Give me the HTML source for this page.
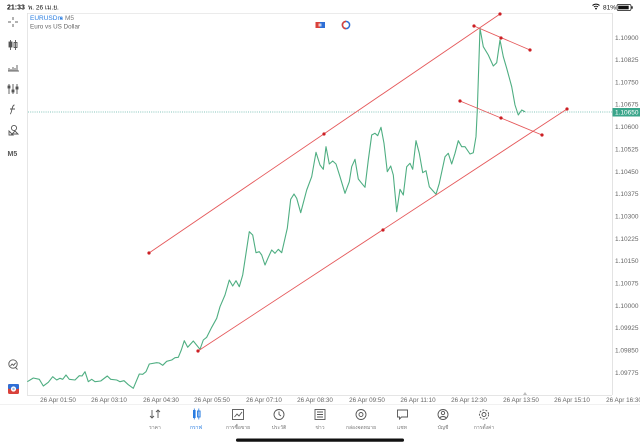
<!DOCTYPE html>
<html><head><meta charset="utf-8">
<style>
html,body{margin:0;padding:0;background:#fff;width:640px;height:447px;overflow:hidden}
svg{display:block;font-family:"Liberation Sans","DejaVu Sans",sans-serif}
</style></head><body>
<svg width="640" height="447" viewBox="0 0 640 447" xmlns="http://www.w3.org/2000/svg">
<rect width="640" height="447" fill="#fff"/>
<!-- status bar -->
<text x="7" y="9.5" font-size="7" fill="#111" font-weight="bold">21:33</text>
<text x="28" y="9.5" font-size="6.5" fill="#111">พ. 26 เม.ย.</text>
<path d="M592.5 5.5 a5 5 0 0 1 7 0 M594 7 a3 3 0 0 1 4 0" stroke="#111" stroke-width="1" fill="none"/>
<circle cx="596" cy="8.6" r="0.9" fill="#111"/>
<text x="603" y="9.5" font-size="6.5" fill="#111">81%</text>
<rect x="617" y="4.5" width="14" height="6" rx="1.5" fill="none" stroke="#111" stroke-width="0.7"/>
<rect x="618.2" y="5.7" width="10.5" height="3.6" fill="#111"/>
<rect x="631.5" y="6.3" width="1.2" height="2.4" fill="#111"/>

<!-- chart frame -->
<line x1="27" y1="13.5" x2="612" y2="13.5" stroke="#e4e4e4" stroke-width="0.8"/>
<line x1="27.5" y1="13" x2="27.5" y2="395" stroke="#e0e0e0" stroke-width="0.8"/>
<line x1="612.5" y1="13" x2="612.5" y2="395" stroke="#dcdcdc" stroke-width="0.8"/>
<line x1="27" y1="395.5" x2="612" y2="395.5" stroke="#dcdcdc" stroke-width="0.8"/>
<line x1="0" y1="404.5" x2="640" y2="404.5" stroke="#ececec" stroke-width="0.8"/>

<!-- header -->
<text x="30" y="20" font-size="6.5" fill="#2a7de1">EURUSDm</text>
<text x="60" y="20" font-size="5" fill="#2a7de1">▾</text>
<text x="65" y="20" font-size="6.5" fill="#777">M5</text>
<text x="30" y="28.5" font-size="6.3" fill="#666">Euro vs US Dollar</text>

<!-- top center icons -->
<rect x="315.5" y="22" width="4.5" height="6" fill="#d9413b"/>
<rect x="320" y="22" width="5" height="6" fill="#2f6fd6"/>
<rect x="318.5" y="23.5" width="3" height="3" fill="#fff" opacity="0.7"/>
<circle cx="346" cy="25" r="3.6" fill="none" stroke="#2f6fd6" stroke-width="1.5"/>
<path d="M346 21.4 a3.6 3.6 0 0 0 0 7.2" fill="none" stroke="#d9413b" stroke-width="1.5"/>

<!-- left toolbar -->
<g stroke="#555" stroke-width="0.9" fill="none">
  <line x1="13" y1="17" x2="13" y2="20"/><line x1="13" y1="24" x2="13" y2="27"/>
  <line x1="8" y1="22" x2="11" y2="22"/><line x1="15" y1="22" x2="18" y2="22"/>
  <line x1="10.5" y1="40" x2="10.5" y2="50"/><rect x="9" y="42" width="3" height="5" fill="#555"/>
  <line x1="15.5" y1="40" x2="15.5" y2="50"/><rect x="14" y="42.5" width="3" height="5"/>
  <line x1="8" y1="71" x2="19" y2="71"/>
  <path d="M9 71v-3M11 71v-2M13 71v-4M15 71v-3M17 71v-6"/>
  <path d="M9 84v10M13 84v10M17 84v10"/>
  <rect x="8" y="86" width="2" height="2" fill="#555"/><rect x="12" y="90" width="2" height="2" fill="#555"/><rect x="16" y="87" width="2" height="2" fill="#555"/>
  <path d="M10 114c2 0 1.5-9 4.5-9M10 109h5"/>
  <circle cx="14" cy="128" r="2.6"/><path d="M9 131v4h4l-4-4z"/><path d="M12 134h6l-3-3z"/>
  <circle cx="13" cy="364" r="4.2"/><path d="M10.5 366l1.6-2 1.5 1.3 2-2.5"/><path d="M15.5 367.5l2 2"/>
</g>
<text x="7.5" y="156" font-size="7" fill="#555" font-weight="bold">M5</text>
<rect x="8" y="384" width="11" height="10" rx="1.5" fill="#d9413b"/>
<rect x="8" y="384" width="11" height="5" rx="1.5" fill="#2f6fd6"/>
<circle cx="13.5" cy="389" r="2.6" fill="#fff"/>
<circle cx="13.5" cy="389" r="1.2" fill="#9fb8e0"/>

<!-- current price dotted line -->
<line x1="28" y1="112" x2="612" y2="112" stroke="#5fb3a6" stroke-width="0.8" stroke-dasharray="1 1.2"/>

<!-- price axis labels -->
<g font-size="6.5" fill="#666">
<text x="615" y="39.8">1.10900</text>
<text x="615" y="62.1">1.10825</text>
<text x="615" y="84.5">1.10750</text>
<text x="615" y="106.3">1.10675</text>
<text x="615" y="129.1">1.10600</text>
<text x="615" y="151.5">1.10525</text>
<text x="615" y="173.8">1.10450</text>
<text x="615" y="196.1">1.10375</text>
<text x="615" y="218.5">1.10300</text>
<text x="615" y="240.8">1.10225</text>
<text x="615" y="263.1">1.10150</text>
<text x="615" y="285.5">1.10075</text>
<text x="615" y="307.8">1.10000</text>
<text x="615" y="330.1">1.09925</text>
<text x="615" y="352.5">1.09850</text>
<text x="615" y="374.8">1.09775</text>
</g>
<rect x="612.5" y="108" width="27.5" height="8.5" fill="#3aa58a"/>
<text x="615" y="114.6" font-size="6.5" fill="#fff">1.10650</text>

<!-- time axis labels -->
<g font-size="6.3" fill="#666" text-anchor="middle">
<text x="58" y="402">26 Apr 01:50</text>
<text x="109" y="402">26 Apr 03:10</text>
<text x="161" y="402">26 Apr 04:30</text>
<text x="212" y="402">26 Apr 05:50</text>
<text x="264" y="402">26 Apr 07:10</text>
<text x="315" y="402">26 Apr 08:30</text>
<text x="367" y="402">26 Apr 09:50</text>
<text x="418" y="402">26 Apr 11:10</text>
<text x="469" y="402">26 Apr 12:30</text>
<text x="521" y="402">26 Apr 13:50</text>
<text x="572" y="402">26 Apr 15:10</text>
<text x="624" y="402">26 Apr 16:30</text>
</g>
<path d="M523 395 l2-3 l2 3z" fill="#bbb"/>

<!-- price line -->
<polyline fill="none" stroke="#4fae82" stroke-width="1.1" stroke-linejoin="round" points="27.3,381.7 33.3,378 39.3,379.3 43.3,386 48.3,382.3 52.7,376.7 56.7,380 60,378.3 62.7,379.3 66,375 69.3,379.3 75,380 79.3,375.7 82,376 85,371.7 88.3,381.7 91.7,379.3 95,381.7 100.7,381 107.3,376 110.7,379.3 116.7,380 120,381.7 124,380.7 128.3,384.7 133.3,388.3 139.3,374 142.7,374.3 146,371.7 149.3,364 156.7,362.7 159.3,363 162.7,365.3 166.7,361.3 171.7,360 175,357.7 178.3,357.3 181.3,350 184.3,340.7 187.7,347.3 193.3,341 200,349.3 203.3,340 206.7,337.3 211.7,327.3 216.7,318.3 220,306.7 225,295 229.3,280 232.7,286 236,280.7 239.3,286.7 242.7,275 249.3,231.7 252.7,235 256,252.7 259.3,251.7 261.7,255 265,265 268.3,257.3 271.7,250 275,253.3 278.3,249.3 281.7,252.7 287.3,228.3 290.7,199.3 294,194 296.7,198.3 300.7,212.7 306.7,190 311.7,176.7 316,152.3 320,165 323.3,169.3 326,146.7 329.3,164 332.7,161 336,164 340,176.7 345,193.3 349.3,181.7 351.7,166.7 355,159.3 358.3,179 361.7,183.3 365,187.3 368.3,160 371.7,135 375,133.3 377.7,135.7 381,127.3 384,143.3 387.3,171.7 390.7,166 393.3,175 396.7,211.7 400,189.3 403.3,195 406.7,166.7 410,163.3 412.7,169.3 416,140.7 419.3,153.3 422.7,172.7 426,170.7 429.3,186.7 436,194.3 439.3,183.3 445,156.7 448.3,153.3 451.7,164 455,153.3 458.3,140.7 461.7,146.7 465,146.7 470,154 473.3,152.7 476,136.7 477.3,110 480,28.3 483.3,46.7 488.3,55 493.3,66 496.7,62.7 500,40 503.3,56.7 506.7,68.3 511.7,86.7 515,105 518.3,115 521.7,110 525,111.7"/>

<!-- red trend lines -->
<g stroke="#e5595b" stroke-width="0.9">
<line x1="149" y1="253" x2="500" y2="14"/>
<line x1="198" y1="351" x2="567" y2="109"/>
<line x1="474" y1="26" x2="530" y2="50"/>
<line x1="460" y1="101" x2="542" y2="135"/>
</g>
<g fill="#cc1f24">
<circle cx="149" cy="253" r="1.6"/><circle cx="324" cy="134" r="1.6"/><circle cx="500" cy="14" r="1.6"/>
<circle cx="198" cy="351" r="1.6"/><circle cx="383" cy="230" r="1.6"/><circle cx="567" cy="109" r="1.6"/>
<circle cx="474" cy="26" r="1.6"/><circle cx="501" cy="38" r="1.6"/><circle cx="530" cy="50" r="1.6"/>
<circle cx="460" cy="101" r="1.6"/><circle cx="501" cy="118" r="1.6"/><circle cx="542" cy="135" r="1.6"/>
</g>

<!-- bottom nav -->
<g stroke="#555" stroke-width="0.9" fill="none">
  <path d="M152 410v8M150 416l2 2 2-2M158 418v-8M156 412l2-2 2 2"/>
  <rect x="232.5" y="409.5" width="11" height="10"/><path d="M234.5 417l2.5-3 2 2 3-4"/>
  <circle cx="279" cy="414.5" r="5"/><path d="M279 411.5v3l2 1.5"/>
  <rect x="315" y="409.5" width="10" height="10"/><path d="M317 412h6M317 414.5h6M317 417h6"/>
  <circle cx="361" cy="414.5" r="5"/><circle cx="361" cy="414.5" r="2"/>
  <path d="M397.5 410h10v7h-6l-2 2v-2h-2z"/>
  <circle cx="443" cy="414.5" r="5"/><circle cx="443" cy="413" r="1.7"/><path d="M439.7 418c1.5-2 5-2 6.6 0"/>
  <circle cx="484" cy="414.5" r="2"/><circle cx="484" cy="414.5" r="4.6" stroke-dasharray="2 1.3"/>
</g>
<g fill="#2a7de1">
  <rect x="193" y="410" width="2.6" height="8"/><line x1="194.3" y1="408.5" x2="194.3" y2="419.5" stroke="#2a7de1" stroke-width="0.8"/>
  <rect x="197.5" y="411" width="2.6" height="6" fill="none" stroke="#2a7de1" stroke-width="0.9"/><line x1="198.8" y1="408.5" x2="198.8" y2="419.5" stroke="#2a7de1" stroke-width="0.8"/>
</g>
<g font-size="5" fill="#777" text-anchor="middle" font-family="'Liberation Sans','DejaVu Sans',sans-serif">
<text x="155" y="429">ราคา</text>
<text x="196" y="429" fill="#2a7de1">กราฟ</text>
<text x="238" y="429">การซื้อขาย</text>
<text x="279" y="429">ประวัติ</text>
<text x="320" y="429">ข่าว</text>
<text x="361" y="429">กล่องจดหมาย</text>
<text x="402" y="429">แชท</text>
<text x="443" y="429">บัญชี</text>
<text x="484" y="429">การตั้งค่า</text>
</g>
<rect x="236" y="438.5" width="168" height="3.2" rx="1.6" fill="#111"/>
</svg>
</body></html>
